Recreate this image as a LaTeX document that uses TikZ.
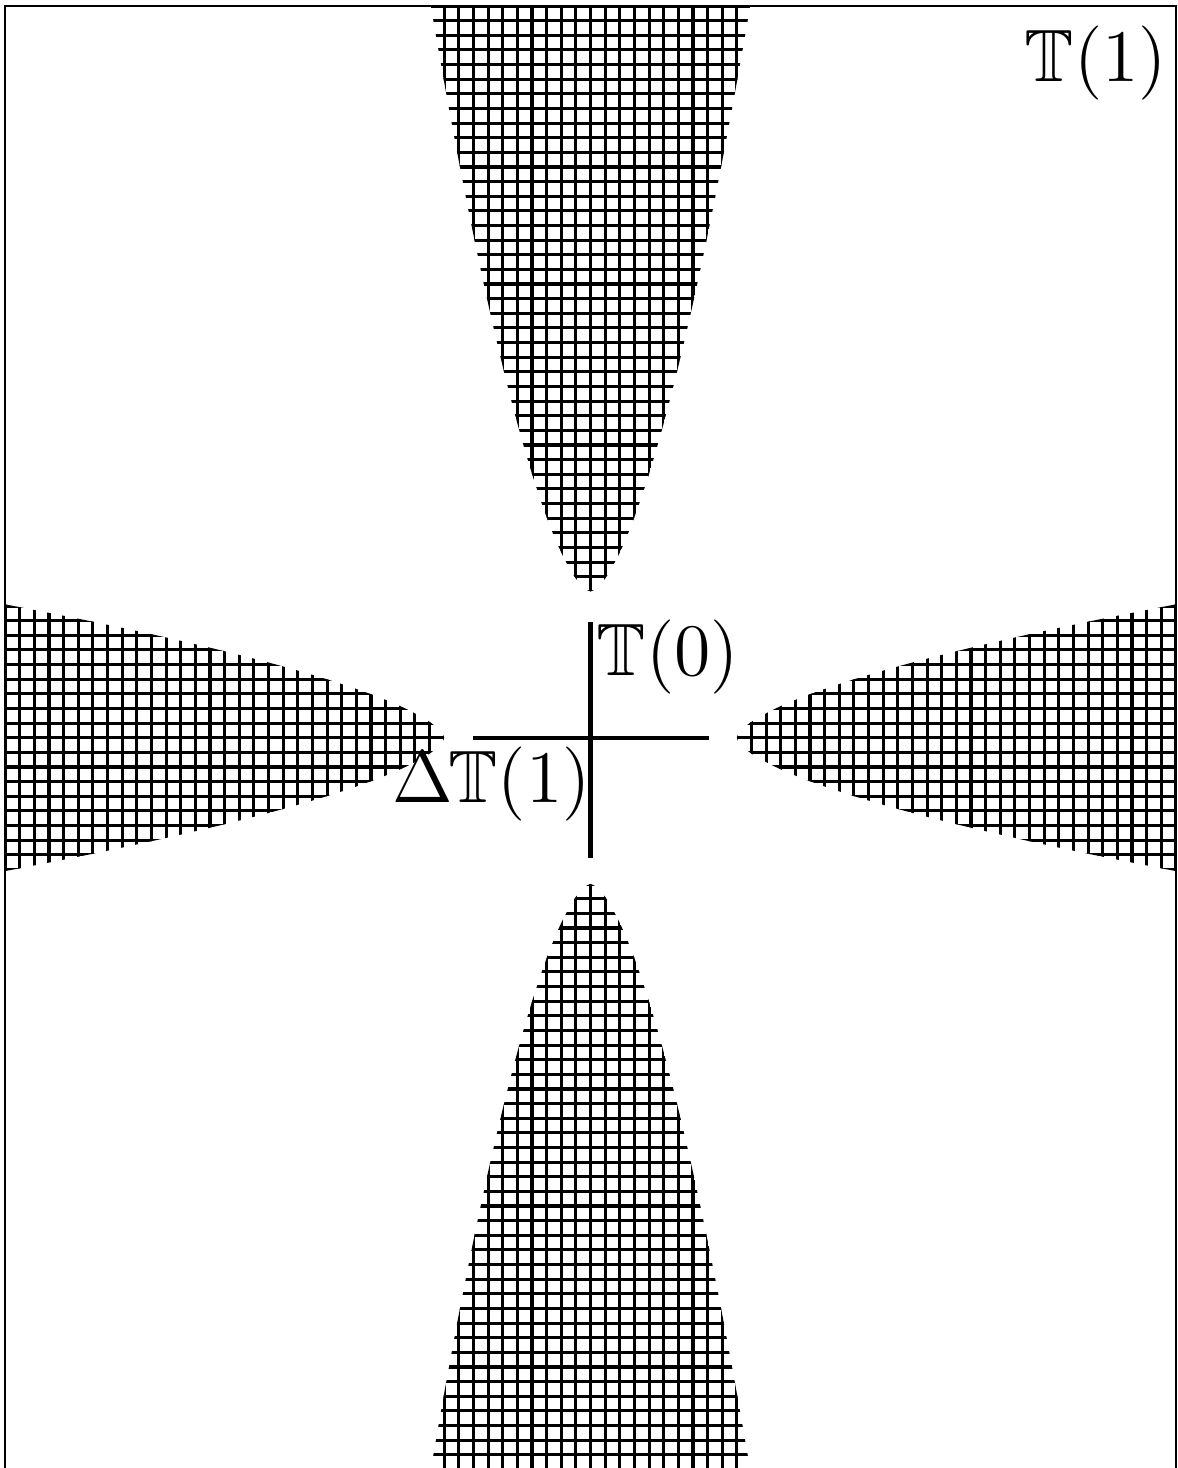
\documentclass[tikz,border=0pt]{standalone}
\usepackage{amssymb}
\begin{document}
\begin{tikzpicture}[x=1cm,y=1cm,
  gridline/.style={line width=0.6pt},
  crossline/.style={line width=0.8pt},
  framebox/.style={line width=0.45pt},
  lbl/.style={inner sep=0pt, font=\fontsize{14.4}{17}\selectfont}]
\useasboundingbox (-4.035,-4.99) rectangle (4.014,5.041);
% hatched regions
\begin{scope}
  \clip (-4,-5) rectangle (4,5);
  \clip (4.6,-1) -- plot[domain=-1:1,samples=121] ({1+3.48*(abs(\x)+0.0001)^1.6},\x) -- (4.6,1) -- cycle
        (-4.6,-1) -- plot[domain=-1:1,samples=121] ({-1-3.48*(abs(\x)+0.0001)^1.6},\x) -- (-4.6,1) -- cycle
        (-1.2,6) -- plot[domain=-1.2:1.2,samples=121] (\x,{1+3.48*(abs(\x)+0.0001)^1.6}) -- (1.2,6) -- cycle
        (-1.2,-6) -- plot[domain=-1.2:1.2,samples=121] (\x,{-1-3.48*(abs(\x)+0.0001)^1.6}) -- (1.2,-6) -- cycle;
  \foreach \i in {-40,...,40} \draw[gridline] (\i/10,-5.1) -- (\i/10,5.1);
  \foreach \j in {-50,...,50} \draw[gridline] (-4.1,\j/10) -- (4.1,\j/10);
\end{scope}
% frame
\draw[framebox] (-4,-5) rectangle (4,5);
% cross
\coordinate (cN) at (0,0.79);
\coordinate (cS) at (0,-0.82);
\coordinate (cW) at (-0.8,0);
\coordinate (cE) at (0.81,0);
\draw[crossline] (cW) -- (cE);
\draw[crossline] (cN) -- (cS);
% labels
\node[lbl, anchor=base east] (t1) at (3.945,4.483) {$\mathbb{T}(1)$};
\node[lbl, anchor=base west] (t0) at (0.035,0.424) {$\mathbb{T}(0)$};
\node[lbl, anchor=base east] (dt1) at (0.008,-0.443) {$\Delta\mkern-1mu\mathbb{T}(1)$};
\end{tikzpicture}
\end{document}
